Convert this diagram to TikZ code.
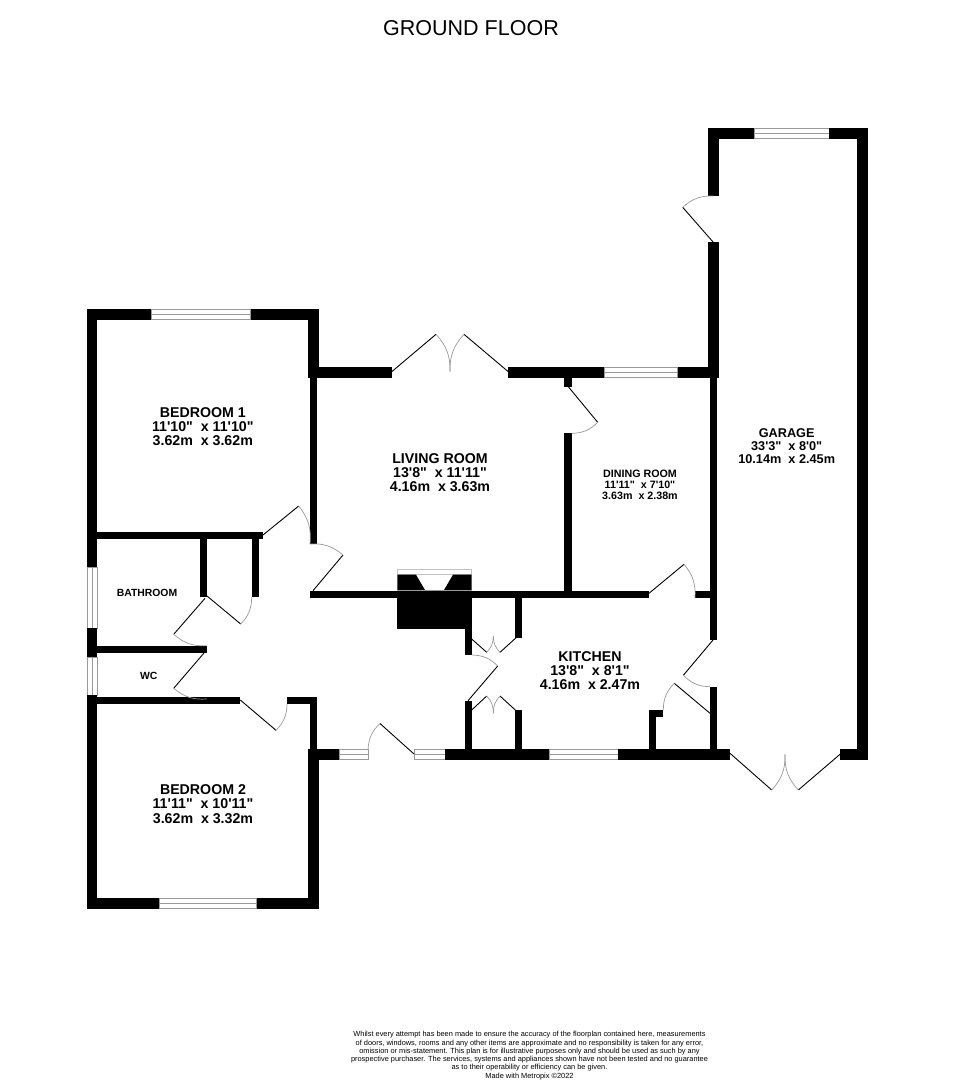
\documentclass[tikz,border=0pt]{standalone}
\usepackage{fontspec}
\setmainfont{Liberation Sans}
\newfontfamily\labfam{Liberation Sans}
\newcommand{\labfont}{\labfam\bfseries}
\definecolor{wingray}{HTML}{999999}
\tikzset{
  x=1pt,y=-1pt,
  wall/.style={fill=black},
  winbox/.style={draw=wingray,fill=white,line width=0.8pt},
  winbar/.style={draw=wingray,line width=0.8pt},
  leaf/.style={draw=black,line width=0.9pt},
  swing/.style={draw=wingray,line width=0.7pt},
  roomlabel/.style={inner sep=0pt,align=center,text=black},
}
\newcommand{\W}[4]{\fill[wall] (#1,#2) rectangle (#3,#4);}
\newcommand{\HWin}[4]{\path[winbox] (#1,#2) rectangle (#3,#4);\draw[winbar] (#1,{(#2+#4)/2}) -- (#3,{(#2+#4)/2});}
\newcommand{\VWin}[4]{\path[winbox] (#1,#2) rectangle (#3,#4);\draw[winbar] ({(#1+#3)/2},#2) -- ({(#1+#3)/2},#4);}
% hinge, leaf end, closing point, bend side
\newcommand{\Door}[4]{\draw[leaf] (#1) -- (#2);\draw[swing] (#2) to[bend #4=22] (#3);}
\newcommand{\Lab}[6]{\node[roomlabel,font=\labfont\fontsize{#4}{#4}\selectfont] (#1) at #2 {#3\\#5\\#6};}
\begin{document}
\begin{tikzpicture}
\useasboundingbox (0,0) rectangle (954,1080);
\fill[white] (0,0) rectangle (954,1080);
% title
\node[inner sep=0pt,font=\fontsize{21.5}{21.5}\selectfont] (title) at (471,28) {GROUND FLOOR};
% chimney
\draw[draw=wingray!60,line width=0.6pt] (397.3,569.5) rectangle (471.7,574.7);
\fill[wall] (397.3,574.7) -- (416,574.7) -- (425,590) -- (397.3,590) -- cycle;
\fill[wall] (453,574.7) -- (471.7,574.7) -- (471.7,590) -- (444,590) -- cycle;
\W{397.3}{590.5}{472}{629}
\draw[wingray,line width=0.5pt] (397.3,590.2) -- (471.7,590.2);
% bedroom 1
\W{87}{309}{151}{320}\W{250}{309}{319}{320}
\HWin{151}{309.5}{250}{319.5}
\W{87}{309}{97.3}{567}
\VWin{87.5}{567}{97}{628}
\W{87}{628}{97.3}{657}
\VWin{87.5}{657}{97}{695}
\W{87}{695}{97.3}{909}
\W{308}{309}{319}{377}
\W{308}{367}{391.7}{378}
\W{310}{377}{317.3}{544}
% bathroom, wc
\W{97}{532}{263}{539}
\W{200}{539}{207}{597}
\W{252}{539}{259}{597}
\W{97}{645.7}{207}{653}
\W{97}{696.7}{240}{704}
\W{287}{697}{317.3}{704}
\W{310}{697}{317.3}{750}
% bedroom 2
\W{308}{749}{319}{909}
\W{87}{898.3}{159.3}{909}\W{256.3}{898.3}{319}{909}
\HWin{159.3}{898.8}{256.3}{908.8}
% front
\W{308}{749.3}{339}{760}
\HWin{339}{749.5}{368}{759.5}
\HWin{414}{749.5}{445}{759.5}
\W{445}{749.3}{549}{760}
\HWin{549}{749.5}{618}{759.5}
\W{618}{749.3}{730}{760}
% living bottom wall
\W{310}{591}{648.7}{597.7}
% kitchen
\W{465}{597}{472}{655}
\W{515}{597}{522}{638}
\W{465}{701}{472}{750}
\W{515}{710}{522}{750}
\W{648.7}{710}{663.3}{716.7}
\W{648.7}{710}{655.7}{750}
\W{695}{591}{717}{598}
% dining
\W{508.3}{367}{604.3}{378}
\HWin{604.3}{367.5}{677.7}{377.5}
\W{677.7}{367}{719}{378}
\W{564.3}{378}{571.7}{387}
\W{564.3}{433.3}{571.7}{591}
% garage
\W{707.7}{128.3}{754}{139.3}
\HWin{754}{128.8}{829.3}{138.8}
\W{829.3}{128.3}{868.3}{139.3}
\W{707.7}{128.3}{719}{196}
\W{707.7}{242.3}{719}{378}
\W{710}{378}{717}{640}
\W{710}{686.7}{717}{750}
\W{857.3}{128.3}{868.3}{760}
\W{840}{749.3}{868.3}{760}
% doors
\Door{263,535}{298.7,506}{310,544}{left}
\Door{313,590.7}{343,555}{310,544}{right}
\Door{207,596}{240.7,624}{251.7,597}{right}
\Door{205,598.3}{173.7,634.3}{206.7,645.7}{right}
\Door{204,653}{173.7,688.3}{206.7,699}{right}
\Door{240.3,700}{276,730.3}{287,704}{right}
\Door{414,754}{380,723.5}{368,750}{right}
\Door{468,700.7}{497.7,666}{471.7,655}{right}
\Door{471.7,639}{486.7,652.3}{493.3,636}{right}
\Door{518.3,635.7}{500,652.3}{493.3,636}{left}
\Door{471.7,710}{486.7,696}{493.3,713.3}{left}
\Door{518.3,712.7}{500,696}{493.3,713.3}{right}
\Door{649,593.3}{684,564.3}{695,598}{left}
\Door{713,640}{683.3,675.3}{710,686.7}{right}
\Door{710,713.3}{674.3,683.3}{663.3,710}{right}
\Door{568.3,386.7}{597.7,422.3}{571.7,433.3}{left}
\Door{391.7,371.7}{436,334.3}{450,371.7}{left}
\Door{508.3,371.7}{464,334.3}{450,371.7}{right}
\Door{713.3,242.3}{682.7,207.3}{713.3,196}{left}
\Door{730,753.3}{771.7,790}{785,754.3}{right}
\Door{840,754.3}{798.3,790}{785,754.3}{left}
% labels
\Lab{bedone}{(202.8,426.8)}{BEDROOM 1}{14.2}{11'10"\ \ x 11'10"}{3.62m\ \ x 3.62m}
\Lab{bedtwo}{(203,804)}{BEDROOM 2}{14.2}{11'11"\ \ x 10'11"}{3.62m\ \ x 3.32m}
\Lab{living}{(440,472.8)}{LIVING ROOM}{14.2}{13'8"\ \ x 11'11"}{4.16m\ \ x 3.63m}
\Lab{kitchen}{(590,670.8)}{KITCHEN}{14.2}{13'8"\ \ x 8'1"}{4.16m\ \ x 2.47m}
\Lab{garage}{(786.7,446)}{GARAGE}{12.7}{33'3"\ \ x 8'0"}{10.14m\ \ x 2.45m}
\Lab{dining}{(640,484.7)}{DINING ROOM}{10.7}{11'11"\ \ x 7'10"}{3.63m\ \ x 2.38m}
\node[inner sep=0pt,font=\labfont\fontsize{10.4}{10.4}\selectfont] (bath) at (147,593.3) {BATHROOM};
\node[inner sep=0pt,font=\labfont\fontsize{10.4}{10.4}\selectfont] (wc) at (148.7,675.7) {WC};
% footer
\node[inner sep=0pt,align=center,font=\fontsize{7.4}{8.25}\selectfont] (foot) at (529.5,1055.5) {Whilst every attempt has been made to ensure the accuracy of the floorplan contained here, measurements\\of doors, windows, rooms and any other items are approximate and no responsibility is taken for any error,\\omission or mis-statement. This plan is for illustrative purposes only and should be used as such by any\\prospective purchaser. The services, systems and appliances shown have not been tested and no guarantee\\as to their operability or efficiency can be given.\\Made with Metropix ©2022};
\end{tikzpicture}
\end{document}
